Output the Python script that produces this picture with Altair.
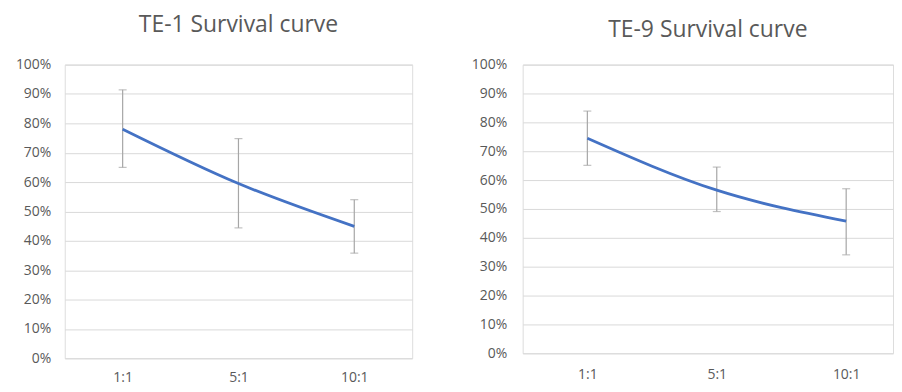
import altair as alt
import pandas as pd

categories = ["1:1", "5:1", "10:1"]

te1_mean = [0.78, 0.595, 0.449]
te1_low = [0.650, 0.444, 0.358]
te1_high = [0.914, 0.748, 0.540]

te9_mean = [0.745, 0.565, 0.458]
te9_low = [0.651, 0.491, 0.341]
te9_high = [0.839, 0.645, 0.570]

y_ticks = [i / 10 for i in range(11)]

FONT = "Open Sans"
LABEL = "#595959"
GRID = "#d9d9d9"
LINE = "#4472C4"
ERR = "#a6a6a6"


def panel(title, mean, low, high, w, h, title_dy, pad, xpad, xpadding, xalign):
    df = pd.DataFrame({"cat": categories, "mean": mean, "low": low, "high": high})
    xs = alt.Scale(type="point", padding=xpadding, align=xalign)
    x = alt.X("cat:N", sort=categories, title=None, scale=xs,
              axis=alt.Axis(labelAngle=0, domain=False, ticks=False, grid=False,
                            labelPadding=xpad, labelFontSize=14, labelColor=LABEL,
                            labelFont=FONT))
    yax = alt.Axis(format=".0%", values=y_ticks, domain=False,
                   ticks=False, grid=True, gridColor=GRID, gridWidth=1,
                   labelPadding=pad, labelFontSize=14, labelColor=LABEL,
                   labelFont=FONT, minExtent=56, maxExtent=56, labelOverlap=False)
    yscale = alt.Scale(domain=[0, 1], nice=False, zero=True)
    base = alt.Chart(df)
    rules = base.mark_rule(color=ERR, strokeWidth=1.2).encode(
        x=x, y=alt.Y("low:Q", title=None, scale=yscale, axis=yax), y2="high:Q")
    cap_lo = base.mark_tick(color=ERR, orient="horizontal", size=8, thickness=1.2).encode(
        x=x, y=alt.Y("low:Q", title=None, scale=yscale, axis=yax))
    cap_hi = base.mark_tick(color=ERR, orient="horizontal", size=8, thickness=1.2).encode(
        x=x, y=alt.Y("high:Q", title=None, scale=yscale, axis=yax))
    line = base.mark_line(color=LINE, strokeWidth=2.8, interpolate="monotone").encode(
        x=x, y=alt.Y("mean:Q", title=None, scale=yscale, axis=yax))
    return alt.layer(rules, cap_lo, cap_hi, line).properties(
        width=w, height=h,
        title=alt.TitleParams(title, fontSize=23, font=FONT, color=LABEL,
                              fontWeight="normal", anchor="middle", offset=21,
                              dy=title_dy, limit=0))


left = panel("TE-1 Survival curve", te1_mean, te1_low, te1_high, 349, 295, 0, 14, 12,
             0.5, 0.5)
right = panel("TE-9 Survival curve", te9_mean, te9_low, te9_high, 372, 290, 5, 16, 14,
              0.4308, 0.58)

chart = alt.hconcat(left, right, spacing=53).properties(
    padding={"left": 0, "top": 4, "right": 0, "bottom": 0}).configure_view(
    stroke=None).configure(background="white")

chart.save("out.html", embed_options={"renderer": "svg", "actions": False})
